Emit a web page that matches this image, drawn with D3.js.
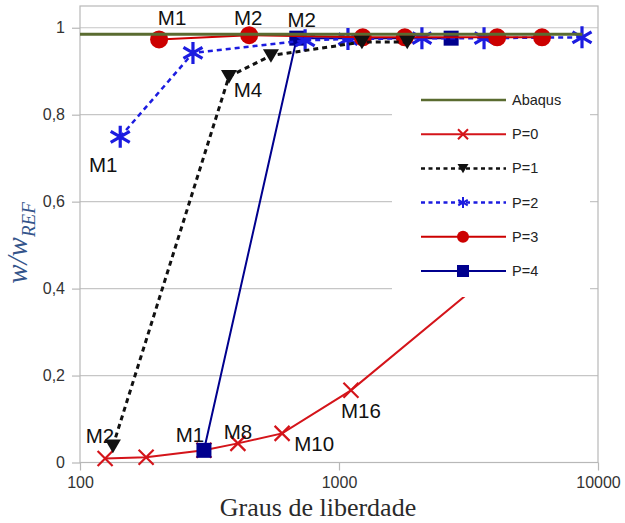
<!DOCTYPE html>
<html>
<head>
<meta charset="utf-8">
<script src="https://cdn.jsdelivr.net/npm/d3@7/dist/d3.min.js"></script>
<style>
  html, body { margin: 0; padding: 0; background: #fff; }
  svg { display: block; }
</style>
</head>
<body>
<svg id="chart" width="625" height="523"></svg>
<script>
// ---- data: degrees of freedom vs normalised displacement w/w_REF ----
const seriesNames = ["Abaqus", "P=0", "P=1", "P=2", "P=3", "P=4"];

const abaqusDof = [100, 8700];
const abaqusW   = [0.985, 0.985];

const p0Dof = [125, 180, 301, 407, 603, 1112, 4000];
const p0W   = [0.009, 0.012, 0.028, 0.044, 0.067, 0.166, 0.44];

const p1Dof = [134, 376, 546, 1226, 1834];
const p1W   = [0.038, 0.888, 0.936, 0.967, 0.967];

const p2Dof = [143, 273, 740, 1083, 2090, 3631, 8674];
const p2W   = [0.749, 0.942, 0.971, 0.974, 0.976, 0.976, 0.978];

const p3Dof = [202, 450, 1235, 1795, 4080, 6080];
const p3W   = [0.973, 0.983, 0.978, 0.978, 0.978, 0.978];

const p4Dof = [301, 687, 2710];
const p4W   = [0.028, 0.976, 0.976];

const xTicks = [100, 1000, 10000];
const yTicks = [0, 0.2, 0.4, 0.6, 0.8, 1];

// mesh labels: text, series, point index
const meshLabels = [
  ["M1", "P=2", 0], ["M1", "P=3", 0], ["M2", "P=3", 1], ["M2", "P=4", 1],
  ["M4", "P=1", 1], ["M2", "P=1", 0], ["M1", "P=4", 0],
  ["M8", "P=0", 3], ["M10", "P=0", 4], ["M16", "P=0", 5]
];

// ---- layout ----
const svg = d3.select("#chart");
const plot = { left: 80, right: 598, top: 6, bottom: 462.5 };

const x = d3.scaleLog().domain([100, 10000]).range([plot.left, plot.right]);
const y = d3.scaleLinear().domain([0, 1.05]).range([plot.bottom, plot.top]);

const zip = (a, b) => a.map((d, i) => [d, b[i]]);
const series = {
  "Abaqus": zip(abaqusDof, abaqusW),
  "P=0": zip(p0Dof, p0W),
  "P=1": zip(p1Dof, p1W),
  "P=2": zip(p2Dof, p2W),
  "P=3": zip(p3Dof, p3W),
  "P=4": zip(p4Dof, p4W)
};

// marker shapes (centred on origin)
function markerPath(kind, s) {
  const h = s / 2;
  switch (kind) {
    case "x":
      return `M${-h},${-h}L${h},${h}M${-h},${h}L${h},${-h}`;
    case "asterisk": {
      const c = Math.cos(Math.PI / 6) * h, sn = Math.sin(Math.PI / 6) * h;
      return `M0,${-h}L0,${h}M${-c},${-sn}L${c},${sn}M${-c},${sn}L${c},${-sn}`;
    }
    case "triDown":
      return `M${-h},${-h * 0.8}L${h},${-h * 0.8}L0,${h * 0.9}Z`;
    case "square":
      return `M${-h},${-h}H${h}V${h}H${-h}Z`;
  }
  return "";
}

const styles = {
  "Abaqus": { color: "#5a6b30", width: 3, dash: null, marker: null },
  "P=0": { color: "#d4141a", width: 2, dash: null, marker: "x", size: 15, mWidth: 2.2, lSize: 10 },
  "P=1": { color: "#111111", width: 3, dash: "5,4", marker: "triDown", size: 16, lSize: 11 },
  "P=2": { color: "#1c1ce0", width: 2.5, dash: "5,4", marker: "asterisk", size: 22, mWidth: 3.2, lSize: 11 },
  "P=3": { color: "#cc0000", width: 2, dash: null, marker: "circle", size: 18, lSize: 12 },
  "P=4": { color: "#00008e", width: 2, dash: null, marker: "square", size: 15, lSize: 12 }
};

function drawMarker(g, kind, st, size) {
  if (kind === "circle") {
    return g.append("circle").attr("r", size / 2).attr("fill", st.color);
  }
  const p = g.append("path").attr("d", markerPath(kind, size));
  if (kind === "x" || kind === "asterisk") {
    p.attr("fill", "none").attr("stroke", st.color)
     .attr("stroke-width", st.mWidth || 2).attr("stroke-linecap", "butt");
  } else {
    p.attr("fill", st.color);
  }
  return p;
}

// ---- grid & frame ----
const grid = svg.append("g");
grid.selectAll("line").data(yTicks.filter(d => d > 0)).join("line")
  .attr("x1", plot.left).attr("x2", plot.right)
  .attr("y1", d => y(d)).attr("y2", d => y(d))
  .attr("stroke", "#c6c6c6").attr("stroke-width", 1.2);

svg.append("rect")
  .attr("x", plot.left).attr("y", plot.top)
  .attr("width", plot.right - plot.left).attr("height", plot.bottom - plot.top)
  .attr("fill", "none").attr("stroke", "#b8b8b8").attr("stroke-width", 1.2);

// ---- axes ----
const fmtY = d => d === 0 ? "0" : d === 1 ? "1" : d3.format(".1f")(d).replace(".", ",");

const yAxis = svg.append("g").attr("transform", `translate(${plot.left},0)`)
  .call(d3.axisLeft(y).tickValues(yTicks).tickFormat(fmtY).tickSize(8).tickPadding(7));
const xAxis = svg.append("g").attr("transform", `translate(0,${plot.bottom})`)
  .call(d3.axisBottom(x).tickValues(xTicks).tickFormat(d3.format("d")).tickSize(8).tickPadding(6));

[yAxis, xAxis].forEach(a => {
  a.select(".domain").remove();
  a.selectAll(".tick line").attr("stroke", "#b8b8b8").attr("stroke-width", 1.2);
  a.selectAll(".tick text").attr("fill", "#333")
    .style("font-family", "'Liberation Sans', Arial, sans-serif").style("font-size", "16px");
});

// ---- series ----
const line = d3.line().x(d => x(d[0])).y(d => y(d[1]));
const drawOrder = ["P=0", "P=4", "P=2", "P=3", "Abaqus", "P=1"];
const layer = svg.append("g");

drawOrder.forEach(name => {
  const st = styles[name];
  const g = layer.append("g");
  g.append("path").datum(series[name]).attr("d", line)
    .attr("fill", "none").attr("stroke", st.color).attr("stroke-width", st.width)
    .attr("stroke-dasharray", st.dash);
  if (st.marker) {
    series[name].forEach(d => {
      const m = g.append("g").attr("transform", `translate(${x(d[0])},${y(d[1])})`);
      drawMarker(m, st.marker, st, st.size);
    });
  }
});

// ---- mesh labels ----
const labelOffset = {
  "P=2|0": [-17, 35], "P=3|0": [13, -14], "P=3|1": [-1, -10], "P=4|1": [5, -11],
  "P=1|1": [19, 21], "P=1|0": [-13, -3], "P=4|0": [-14, -8],
  "P=0|3": [0, -4], "P=0|4": [32, 18], "P=0|5": [10, 28]
};
svg.append("g").selectAll("text").data(meshLabels).join("text")
  .attr("x", d => x(series[d[1]][d[2]][0]) + labelOffset[d[1] + "|" + d[2]][0])
  .attr("y", d => y(series[d[1]][d[2]][1]) + labelOffset[d[1] + "|" + d[2]][1])
  .attr("text-anchor", "middle")
  .attr("fill", "#111")
  .style("font-family", "'Liberation Sans', Arial, sans-serif")
  .style("font-size", "20.5px")
  .text(d => d[0]);

// ---- legend ----
const legend = svg.append("g");
legend.append("rect").attr("x", 392).attr("y", 80).attr("width", 198).attr("height", 217)
  .attr("fill", "#fff");
seriesNames.forEach((name, i) => {
  const st = styles[name];
  const ly = 100 + i * 34.2;
  const g = legend.append("g").attr("transform", `translate(0,${ly})`);
  g.append("line").attr("x1", 421).attr("x2", 506).attr("y1", 0).attr("y2", 0)
    .attr("stroke", st.color).attr("stroke-width", Math.min(st.width, 2.5))
    .attr("stroke-dasharray", st.dash ? "4,3.5" : null);
  if (st.marker) {
    const m = g.append("g").attr("transform", "translate(463,0)");
    drawMarker(m, st.marker, { ...st, mWidth: 2 }, st.lSize);
  }
  g.append("text").attr("x", 512).attr("y", 0).attr("dy", "0.35em")
    .attr("fill", "#222")
    .style("font-family", "'Liberation Sans', Arial, sans-serif")
    .style("font-size", "14.5px")
    .text(name);
});

// ---- axis titles ----
const xTitle = svg.append("text")
  .attr("x", 318).attr("y", 516).attr("text-anchor", "middle")
  .attr("fill", "#2a2a2a")
  .style("font-family", "'Liberation Serif', 'Times New Roman', serif")
  .style("font-size", "24px")
  .text("Graus de liberdade");
{
  const w = xTitle.node().getComputedTextLength();
  xTitle.style("font-size", Math.min(26, 24 * 220 / w) + "px");
}

const yTitle = svg.append("text")
  .attr("transform", "translate(27,243) rotate(-90)")
  .attr("text-anchor", "middle")
  .attr("fill", "#34558b")
  .style("font-family", "'Liberation Serif', 'Times New Roman', serif")
  .style("font-style", "italic");
yTitle.append("tspan").style("font-size", "29px").text("w/w");
yTitle.append("tspan").style("font-size", "19px").attr("dy", 8).text("REF");
</script>
</body>
</html>
